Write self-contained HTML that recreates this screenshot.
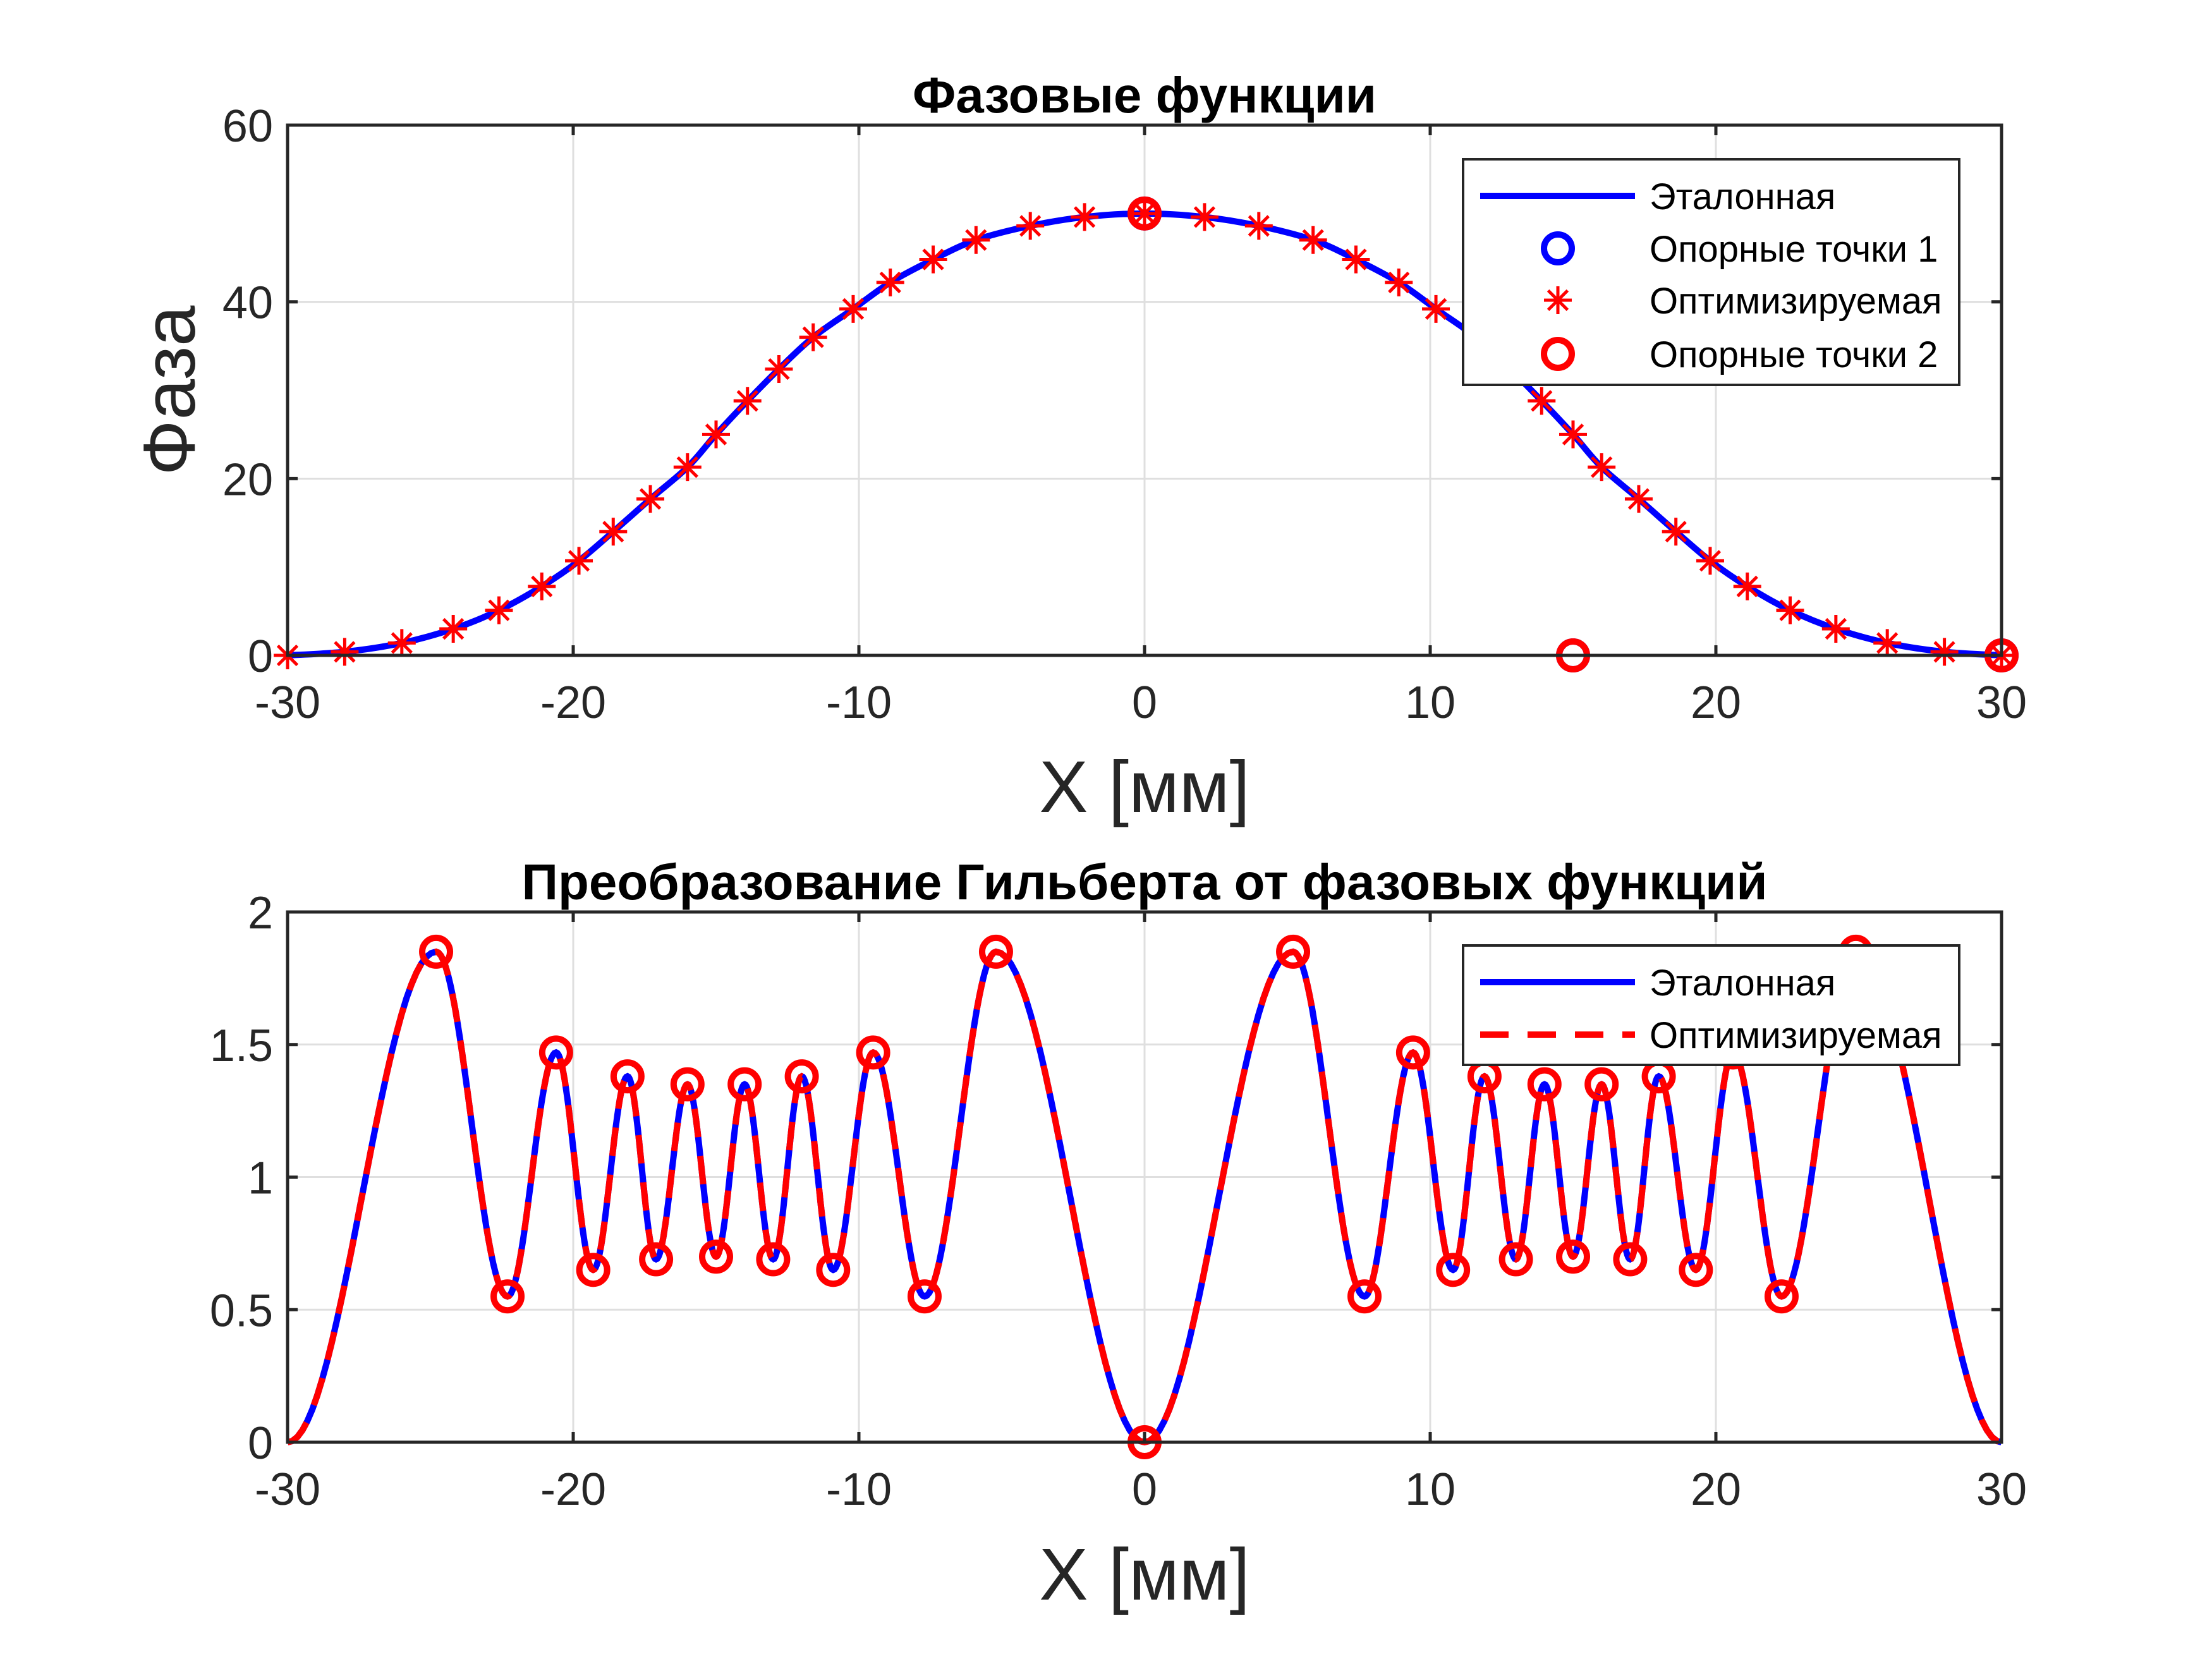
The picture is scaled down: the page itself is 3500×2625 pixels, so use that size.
<!DOCTYPE html>
<html><head><meta charset="utf-8"><style>
html,body{margin:0;padding:0;background:#fff}
svg{display:block}
text{font-family:"Liberation Sans",sans-serif;fill:#262626}
</style></head><body>
<svg id="fig" width="3500" height="2625" viewBox="0 0 3500 2625" xmlns="http://www.w3.org/2000/svg">
<rect width="3500" height="2625" fill="#fff"/>
<g id="top"></g>
<g id="bot"></g>
</svg>
<script>
// ---- data: top chart (phase functions)
const xTicks = [-30,-20,-10,0,10,20,30];
const yTicksTop = [0,20,40,60];
const yTicksBot = [0,0.5,1,1.5,2];
const yTickLabelsBot = ["0","0.5","1","1.5","2"];
const optX = [-30,-28,-26,-24.2,-22.6,-21.1,-19.8,-18.6,-17.3,-16,-15,-13.9,-12.8,-11.6,-10.2,-8.9,-7.4,-5.9,-4,-2.1,0,2.1,4,5.9,7.4,8.9,10.2,11.6,12.8,13.9,15,16,17.3,18.6,19.8,21.1,22.6,24.2,26,28,30];
const optY = [0,0.4,1.4,3,5.1,7.8,10.7,14,17.7,21.3,25,28.8,32.4,36,39.2,42.2,44.8,47,48.6,49.6,50,49.6,48.6,47,44.8,42.2,39.2,36,32.4,28.8,25,21.3,17.7,14,10.7,7.8,5.1,3,1.4,0.4,0];
const ref1X = [0,15,30];
const ref1Y = [50,0,0];
const ref2X = [0,15,30];
const ref2Y = [50,0,0];
// ---- data: bottom chart (Hilbert transform) extrema
const hilX = [-30,-24.8,-22.3,-20.6,-19.3,-18.1,-17.1,-16,-15,-14,-13,-12,-10.9,-9.5,-7.7,-5.2,0,5.2,7.7,9.4,10.8,11.9,13,14,15,16,17,18,19.3,20.6,22.3,24.9,30];
const hilY = [0,1.85,0.55,1.47,0.65,1.38,0.69,1.35,0.70,1.35,0.69,1.38,0.65,1.47,0.55,1.85,0,1.85,0.55,1.47,0.65,1.38,0.69,1.35,0.70,1.35,0.69,1.38,0.65,1.47,0.55,1.85,0];
const circX = [-24.8,-22.3,-20.6,-19.3,-18.1,-17.1,-16,-15,-14,-13,-12,-10.9,-9.5,-7.7,-5.2,0,5.2,7.7,9.4,10.8,11.9,13,14,15,16,17,18,19.3,20.6,22.3,24.9];
const circY = [1.85,0.55,1.47,0.65,1.38,0.69,1.35,0.70,1.35,0.69,1.38,0.65,1.47,0.55,1.85,0,1.85,0.55,1.47,0.65,1.38,0.69,1.35,0.70,1.35,0.69,1.38,0.65,1.47,0.55,1.85];

const NS="http://www.w3.org/2000/svg";
function mk(tag, attrs, parent){const e=document.createElementNS(NS,tag);for(const k in attrs)e.setAttribute(k,attrs[k]);parent.appendChild(e);return e;}
const L=455,R=3167;
function axis(g,top,bot,ymin,ymax,yt){
  const sx=v=>L+(v+30)/60*(R-L);
  const sy=v=>bot-(v-ymin)/(ymax-ymin)*(bot-top);
  for(const t of xTicks){const l=mk('line',{x1:sx(t),x2:sx(t),y1:top,y2:bot,stroke:'#dfdfdf','stroke-width':3},g);
    
    }
  yt.forEach(t=>{const l=mk('line',{x1:L,x2:R,y1:sy(t),y2:sy(t),stroke:'#dfdfdf','stroke-width':3},g);
    
    });
  return {sx,sy};
}
function frame(g,top,bot,yt,ytl,sy,sx,title,titleY,tickY,xlabY){
  const f=mk('rect',{x:L,y:top,width:R-L,height:bot-top,fill:'none',stroke:'#262626','stroke-width':5},g);
  
  
  for(const t of xTicks){
    mk('line',{x1:sx(t),x2:sx(t),y1:bot,y2:bot-16,stroke:'#262626','stroke-width':5},g);
    mk('line',{x1:sx(t),x2:sx(t),y1:top,y2:top+16,stroke:'#262626','stroke-width':5},g);
    const tx=mk('text',{x:sx(t),y:tickY,'font-size':72,'text-anchor':'middle'},g);tx.textContent=String(t);
    
    
  }
  yt.forEach((t,i)=>{
    mk('line',{x1:L,x2:L+16,y1:sy(t),y2:sy(t),stroke:'#262626','stroke-width':5},g);
    mk('line',{x1:R,x2:R-16,y1:sy(t),y2:sy(t),stroke:'#262626','stroke-width':5},g);
    const tx=mk('text',{x:432,y:sy(t)+26,'font-size':72,'text-anchor':'end'},g);tx.textContent=ytl[i];
    
    
  });
  const ti=mk('text',{x:1811,y:titleY,'font-size':80,'font-weight':'bold','text-anchor':'middle',style:'fill:#000'},g);ti.textContent=title;
  
  
  const xl=mk('text',{x:1811,y:xlabY,'font-size':116,'text-anchor':'middle'},g);xl.textContent='X [мм]';
  
  
}
function catmull(px,py){
  let d='M'+px[0]+','+py[0];
  for(let i=0;i<px.length-1;i++){
    const x0=px[Math.max(i-1,0)],y0=py[Math.max(i-1,0)],x1=px[i],y1=py[i],x2=px[i+1],y2=py[i+1],x3=px[Math.min(i+2,px.length-1)],y3=py[Math.min(i+2,px.length-1)];
    d+=' C'+(x1+(x2-x0)/6)+','+(y1+(y2-y0)/6)+' '+(x2-(x3-x1)/6)+','+(y2-(y3-y1)/6)+' '+x2+','+y2;
  }
  return d;
}
function cosPath(xs,ys,sx,sy){
  let d='';
  for(let i=0;i<xs.length-1;i++){
    for(let k=0;k<=30;k++){
      const t=k/30;const x=xs[i]+(xs[i+1]-xs[i])*t;const y=ys[i]+(ys[i+1]-ys[i])*(1-Math.cos(Math.PI*t))/2;
      d+=(d?' L':'M')+sx(x).toFixed(1)+','+sy(y).toFixed(1);
    }
  }
  return d;
}
function star(g,cx,cy,r){
  return mk('path',{d:`M${cx-r},${cy}H${cx+r}M${cx},${cy-r}V${cy+r}M${cx-r*0.7},${cy-r*0.7}L${cx+r*0.7},${cy+r*0.7}M${cx-r*0.7},${cy+r*0.7}L${cx+r*0.7},${cy-r*0.7}`,stroke:'#ff0000','stroke-width':5,fill:'none'},g);
}
// ---- top chart
const gt=document.getElementById('top');
const T1=198,B1=1037;
const a1=axis(gt,T1,B1,0,60,yTicksTop);
{
  const line=mk('path',{d:catmull(optX.map(a1.sx),optY.map(a1.sy)),stroke:'#0000ff','stroke-width':10,fill:'none','stroke-linejoin':'round'},gt);
  
  
  ref1X.forEach((x,i)=>{const c=mk('circle',{cx:a1.sx(x),cy:a1.sy(ref1Y[i]),r:22,fill:'none',stroke:'#0000ff','stroke-width':10},gt);
    
    });
  optX.forEach((x,i)=>{const s=star(gt,a1.sx(x),a1.sy(optY[i]),22);
    
    });
  ref2X.forEach((x,i)=>{const c=mk('circle',{cx:a1.sx(x),cy:a1.sy(ref2Y[i]),r:22,fill:'none',stroke:'#ff0000','stroke-width':10},gt);
    
    });
}
frame(gt,T1,B1,yTicksTop,yTicksTop.map(String),a1.sy,a1.sx,'Фазовые функции',178,1136,1285);
{
  const yl=mk('text',{x:0,y:0,'font-size':116,'text-anchor':'middle',transform:'translate(308,618) rotate(-90)'},gt);yl.textContent='Фаза';
  
  
  const lg=mk('g',{},gt);
  
  
  mk('rect',{x:2315,y:252,width:785,height:357,fill:'#fff',stroke:'#262626','stroke-width':4},lg);
  const rows=[310,393,475,560];
  const labs=['Эталонная','Опорные точки 1','Оптимизируемая','Опорные точки 2'];
  mk('line',{x1:2342,x2:2587,y1:rows[0],y2:rows[0],stroke:'#0000ff','stroke-width':10},lg);
  mk('circle',{cx:2465,cy:rows[1],r:22,fill:'none',stroke:'#0000ff','stroke-width':10},lg);
  star(lg,2465,rows[2],22);
  mk('circle',{cx:2465,cy:rows[3],r:22,fill:'none',stroke:'#ff0000','stroke-width':10},lg);
  labs.forEach((s,i)=>{const t=mk('text',{x:2610,y:rows[i]+21,'font-size':58,style:'fill:#000'},lg);t.textContent=s;
    
    });
}
// ---- bottom chart
const gb=document.getElementById('bot');
const T2=1443,B2=2282;
const a2=axis(gb,T2,B2,0,2,yTicksBot);
{
  const d=cosPath(hilX,hilY,a2.sx,a2.sy);
  const l1=mk('path',{d:d,stroke:'#0000ff','stroke-width':10,fill:'none'},gb);
  
  
  const l2=mk('path',{d:d,stroke:'#ff0000','stroke-width':10,fill:'none','stroke-dasharray':'45 30'},gb);
  
  
  circX.forEach((x,i)=>{const c=mk('circle',{cx:a2.sx(x),cy:a2.sy(circY[i]),r:22,fill:'none',stroke:'#ff0000','stroke-width':10},gb);
    
    });
}
frame(gb,T2,B2,yTicksBot,yTickLabelsBot,a2.sy,a2.sx,'Преобразование Гильберта от фазовых функций',1423,2381,2531);
{
  const lg=mk('g',{},gb);
  
  
  mk('rect',{x:2315,y:1496,width:785,height:189,fill:'#fff',stroke:'#262626','stroke-width':4},lg);
  mk('line',{x1:2342,x2:2587,y1:1554,y2:1554,stroke:'#0000ff','stroke-width':10},lg);
  mk('line',{x1:2342,x2:2587,y1:1637,y2:1637,stroke:'#ff0000','stroke-width':10,'stroke-dasharray':'45 30'},lg);
  [['Эталонная',1554],['Оптимизируемая',1637]].forEach(r=>{const t=mk('text',{x:2610,y:r[1]+21,'font-size':58,style:'fill:#000'},lg);t.textContent=r[0];
    
    });
}
</script>
</body></html>
